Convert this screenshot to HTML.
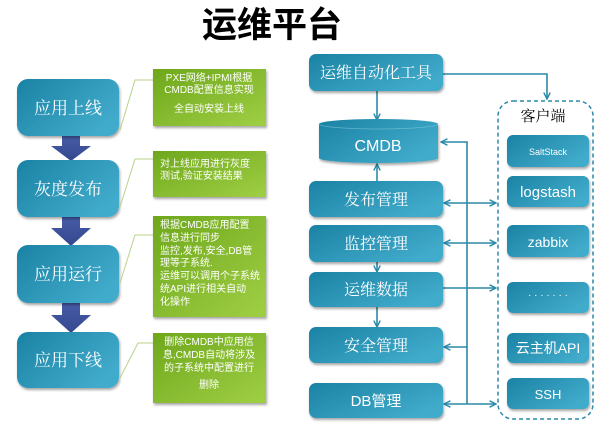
<!DOCTYPE html>
<html><head><meta charset="utf-8"><style>
html,body{margin:0;padding:0;background:#fff;}
svg{display:block;}
</style></head><body>
<svg width="600" height="423" viewBox="0 0 600 423" xmlns="http://www.w3.org/2000/svg">
<defs>
<linearGradient id="teal" x1="0" y1="0" x2="1" y2="0.6">
<stop offset="0" stop-color="#1b82a4"/><stop offset="1" stop-color="#41abcb"/>
</linearGradient>
<linearGradient id="green" x1="0" y1="0" x2="1" y2="1">
<stop offset="0" stop-color="#6ea71c"/><stop offset="1" stop-color="#a0cf44"/>
</linearGradient>
<linearGradient id="blue" x1="0" y1="0" x2="0" y2="1">
<stop offset="0" stop-color="#4a5eaa"/><stop offset="1" stop-color="#34488f"/>
</linearGradient>
<filter id="sh" x="-10%" y="-10%" width="125%" height="135%">
<feDropShadow dx="1" dy="2" stdDeviation="1.3" flood-color="#000" flood-opacity="0.35"/>
</filter>
<marker id="ah" viewBox="0 0 10 10" refX="9" refY="5" markerWidth="8" markerHeight="8" markerUnits="userSpaceOnUse" orient="auto-start-reverse">
<path d="M1,1 L9,5 L1,9" fill="none" stroke="#2b8aa9" stroke-width="1.8"/>
</marker>
</defs>

<!-- Title -->
<text x="272" y="37" font-family="'Liberation Sans','Noto Sans CJK SC',sans-serif" font-weight="bold" font-size="35" text-anchor="middle" fill="#000">运维平台</text>

<!-- Left flow arrows -->
<g fill="url(#blue)">
<polygon points="62,133 80,133 80,146 91,146 71,161 51,146 62,146"/>
<polygon points="62,214 80,214 80,228 91,228 71,246 51,228 62,228"/>
<polygon points="62,300 80,300 80,315 91,315 71,333 51,315 62,315"/>
</g>

<!-- Left boxes -->
<g filter="url(#sh)" fill="url(#teal)">
<rect x="17" y="79" width="102" height="57" rx="11"/>
<rect x="17" y="160" width="102" height="57" rx="11"/>
<rect x="17" y="245" width="102" height="58" rx="11"/>
<rect x="17" y="332" width="102" height="56" rx="11"/>
</g>
<g font-family="'Noto Serif CJK SC','Liberation Serif',serif" font-size="17" fill="#fff" text-anchor="middle">
<text x="68" y="114">应用上线</text>
<text x="68" y="195">灰度发布</text>
<text x="68" y="280">应用运行</text>
<text x="68" y="366">应用下线</text>
</g>

<!-- Connector lines to green boxes -->
<g fill="none" stroke="#b7d38a" stroke-width="1">
<polyline points="120,130 135,80 153,80"/>
<polyline points="120,207 135,159 153,159"/>
<polyline points="120,283 135,235 153,235"/>
<polyline points="120,378 138,343 153,343"/>
</g>

<!-- Green boxes -->
<g filter="url(#sh)" fill="url(#green)">
<rect x="153" y="69" width="113" height="57"/>
<rect x="153" y="151" width="113" height="46"/>
<rect x="153" y="216" width="113" height="101"/>
<rect x="153" y="333" width="113" height="70"/>
</g>
<g font-family="'Liberation Sans Narrow','Liberation Sans','Noto Sans CJK SC',sans-serif" font-size="10" fill="#fff">
<g text-anchor="middle">
<text x="209" y="81">PXE网络+IPMI根据</text>
<text x="209" y="93">CMDB配置信息实现</text>
<text x="209" y="112">全自动安装上线</text>
</g>
<text x="160" y="167">对上线应用进行灰度</text>
<text x="160" y="179">测试,验证安装结果</text>
<text x="160" y="228">根据CMDB应用配置</text>
<text x="160" y="241">信息进行同步</text>
<text x="160" y="254">监控,发布,安全,DB管</text>
<text x="160" y="266">理等子系统.</text>
<text x="160" y="279">运维可以调用个子系统</text>
<text x="160" y="292">统API进行相关自动</text>
<text x="160" y="305">化操作</text>
<g text-anchor="middle">
<text x="209" y="345">删除CMDB中应用信</text>
<text x="209" y="358">息,CMDB自动将涉及</text>
<text x="209" y="371">的子系统中配置进行</text>
<text x="209" y="388">删除</text>
</g>
</g>

<!-- Right side connectors -->
<g fill="none" stroke="#2b8aa9" stroke-width="1.6">
<line x1="377" y1="91" x2="377" y2="120" marker-end="url(#ah)"/>
<line x1="377" y1="181" x2="377" y2="164" marker-end="url(#ah)"/>
<line x1="377" y1="262" x2="377" y2="272" marker-end="url(#ah)"/>
<line x1="377" y1="307" x2="377" y2="327" marker-end="url(#ah)"/>
<polyline points="443,74 547,74 547,99" marker-end="url(#ah)"/>
<polyline points="467,404 467,142 441,142" marker-end="url(#ah)"/>
<line x1="444" y1="203" x2="496" y2="203" marker-start="url(#ah)" marker-end="url(#ah)"/>
<line x1="444" y1="243" x2="496" y2="243" marker-start="url(#ah)" marker-end="url(#ah)"/>
<line x1="443" y1="288" x2="496" y2="288" marker-end="url(#ah)"/>
<line x1="467" y1="347" x2="444" y2="347" marker-end="url(#ah)"/>
<line x1="444" y1="404" x2="496" y2="404" marker-start="url(#ah)" marker-end="url(#ah)"/>
</g>

<!-- Dashed client container -->
<rect x="498" y="101" width="95" height="318" rx="15" fill="none" stroke="#2b8aa9" stroke-width="1.5" stroke-dasharray="4,3"/>
<text x="543" y="121" font-family="'Noto Serif CJK SC','Liberation Serif',serif" font-size="15" text-anchor="middle" fill="#000">客户端</text>

<!-- Right boxes -->
<g filter="url(#sh)" fill="url(#teal)">
<rect x="309" y="54" width="134" height="37" rx="7"/>
<rect x="309" y="181" width="134" height="36" rx="7"/>
<rect x="309" y="225" width="134" height="37" rx="7"/>
<rect x="309" y="272" width="134" height="35" rx="7"/>
<rect x="309" y="327" width="134" height="36" rx="7"/>
<rect x="309" y="383" width="134" height="35" rx="7"/>
<path d="M319,124 A59.5,5 0 0 1 438,124 L438,158 A59.5,5 0 0 1 319,158 Z"/>
<rect x="507" y="135" width="82" height="32" rx="6"/>
<rect x="507" y="176" width="82" height="31" rx="6"/>
<rect x="507" y="225" width="82" height="32" rx="6"/>
<rect x="507" y="282" width="82" height="31" rx="6"/>
<rect x="507" y="333" width="82" height="30" rx="6"/>
<rect x="507" y="378" width="82" height="31" rx="6"/>
</g>
<path d="M319,124 A59.5,5 0 0 0 438,124" fill="none" stroke="#7cc6dc" stroke-width="0.8" opacity="0.7"/>

<g font-family="'Noto Serif CJK SC','Liberation Serif',serif" font-size="16" fill="#fff" text-anchor="middle">
<text x="376" y="78">运维自动化工具</text>
<text x="376" y="205">发布管理</text>
<text x="376" y="249">监控管理</text>
<text x="376" y="295">运维数据</text>
<text x="376" y="351">安全管理</text>
</g>
<g font-family="'Liberation Sans','Noto Sans CJK SC',sans-serif" fill="#fff" text-anchor="middle">
<text x="376" y="406" font-size="15">DB管理</text>
<text x="378" y="151" font-size="16">CMDB</text>
<text x="548" y="155" font-size="9">SaltStack</text>
<text x="548" y="197" font-size="15">logstash</text>
<text x="548" y="247" font-size="14">zabbix</text>
<text x="548" y="298" font-size="10">· · · · · · ·</text>
<text x="548" y="353" font-size="14">云主机API</text>
<text x="548" y="399" font-size="13">SSH</text>
</g>
</svg>
</body></html>
